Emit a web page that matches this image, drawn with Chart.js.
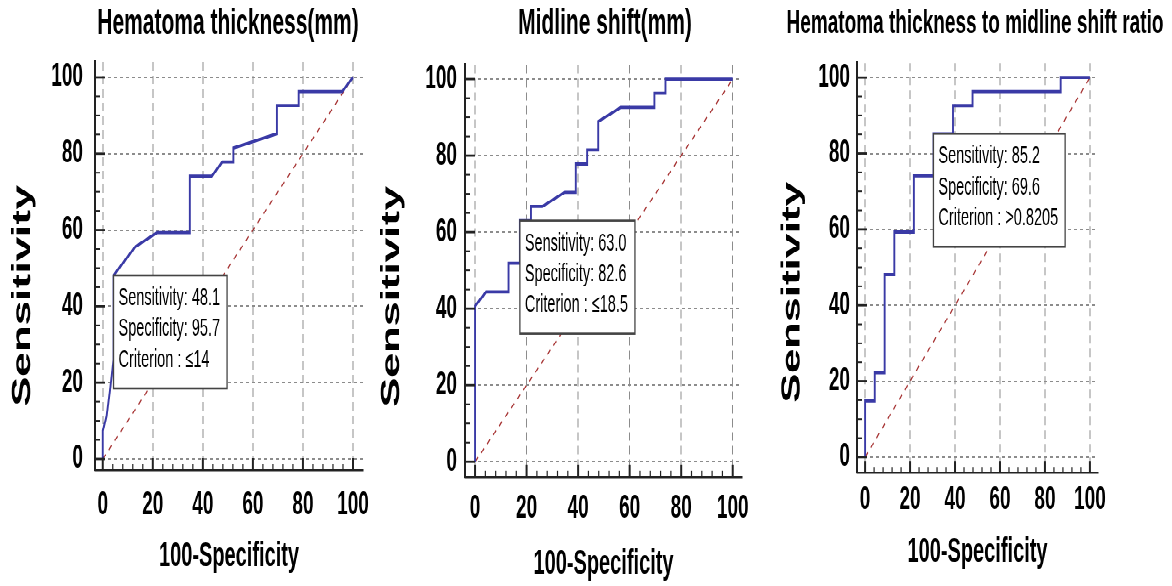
<!DOCTYPE html>
<html>
<head>
<meta charset="utf-8">
<script src="https://cdn.jsdelivr.net/npm/chart.js@4.4.1/dist/chart.umd.min.js"></script>
<style>
  html, body { margin: 0; padding: 0; background: #fff; overflow: hidden; }
  /* the source figure is stretched vertically, so the whole row is drawn flat and scaled */
  #wrap { position: absolute; left: 0; top: 0; width: 1172px; height: 345px; transform: scaleY(1.7); transform-origin: 0 0; }
  .panel { position: absolute; top: 0; height: 345px; }
</style>
</head>
<body>
<div id="wrap">
  <div class="panel" style="left:0;width:456px"><canvas id="roc1"></canvas></div>
  <div class="panel" style="left:375px;width:460px"><canvas id="roc2"></canvas></div>
  <div class="panel" style="left:778px;width:394px"><canvas id="roc3"></canvas></div>
</div>
<script>
const titles = ['Hematoma thickness(mm)', 'Midline shift(mm)', 'Hematoma thickness to midline shift ratio']
const xLabel = '100-Specificity'
const yLabel = 'Sensitivity'

// ROC curves: 100-specificity (x) and sensitivity (y)
const thicknessX = [0, 0, 1.5, 3.0, 4.3, 4.3, 13.0, 21.7, 34.8, 34.8, 43.5, 47.8, 52.2, 52.2, 69.6, 69.6, 78.3, 78.3, 95.7, 100]
const thicknessY = [0, 7.4, 11.1, 18.5, 25.9, 48.1, 55.6, 59.3, 59.3, 74.1, 74.1, 77.8, 77.8, 81.5, 85.2, 92.6, 92.6, 96.3, 96.3, 100]

const shiftX = [0, 0, 4.3, 13.0, 13.0, 17.4, 17.4, 21.7, 21.7, 26.1, 34.8, 39.1, 39.1, 43.5, 43.5, 47.8, 47.8, 56.5, 69.6, 69.6, 73.9, 73.9, 100]
const shiftY = [0, 40.7, 44.4, 44.4, 51.9, 51.9, 63.0, 63.0, 66.7, 66.7, 70.4, 70.4, 77.8, 77.8, 81.5, 81.5, 88.9, 92.6, 92.6, 96.3, 96.3, 100, 100]

const ratioX = [0, 0, 4.3, 4.3, 8.7, 8.7, 13.0, 13.0, 21.7, 21.7, 30.4, 30.4, 39.1, 39.1, 47.8, 47.8, 87.0, 87.0, 100]
const ratioY = [0, 14.8, 14.8, 22.2, 22.2, 48.1, 48.1, 59.3, 59.3, 74.1, 74.1, 85.2, 85.2, 92.6, 92.6, 96.3, 96.3, 100, 100]

const diagX = [0, 100]
const diagY = [0, 100]

// optimal cut-off of each curve
const sensitivity = [48.1, 63.0, 85.2]
const specificity = [95.7, 82.6, 69.6]
const criterion = ['≤14', '≤18.5', '>0.8205']

const curvesX = [thicknessX, shiftX, ratioX]
const curvesY = [thicknessY, shiftY, ratioY]

// per-panel geometry (canvas px, before the vertical stretch)
const frames = [
  {left: 0,   xMin: -3.1, xMax: 104.0, yMin: -2.9, yMax: 104.0, yWidth: 95, rWidth: 93, xHeight: 68.5, titleSize: 21, titlePad: {top: 1.6, bottom: 9.7},  yTickPad: 12, xTickPad: 9.5, xTitlePad: 5.5, yTitleX: 23, yTitleY: 174},
  {left: 375, xMin: -3.9, xMax: 103.6, yMin: -3.9, yMax: 103.7, yWidth: 90, rWidth: 93, xHeight: 64.6, titleSize: 21, titlePad: {top: 1.6, bottom: 11.4}, yTickPad: 8,  xTickPad: 7.4, xTitlePad: 1,   yTitleX: 392, yTitleY: 174.5},
  {left: 778, xMin: -3.6, xMax: 103.6, yMin: -4.1, yMax: 103.8, yWidth: 79, rWidth: 74, xHeight: 66.9, titleSize: 19, titlePad: {top: 2.8, bottom: 11.5}, yTickPad: 7,  xTickPad: 4.6, xTitlePad: 8,   yTitleX: 792.5, yTitleY: 172}
]

const FONT = "'Liberation Sans', Arial, sans-serif"

function points(xs, ys) {
  return xs.map((x, i) => ({x: x, y: ys[i]}))
}

function steps(every) {
  const t = []
  for (let v = 0; v <= 100; v += every) t.push({value: v})
  return t
}

// short tick marks pointing into the plot, long on the labelled values
const innerTicks = {
  id: 'innerTicks',
  afterDraw(chart) {
    const {ctx, chartArea: a, scales: {x, y}} = chart
    ctx.save()
    ctx.strokeStyle = '#222'
    x.ticks.forEach(t => {
      const px = x.getPixelForValue(t.value)
      const major = t.value % 20 === 0
      ctx.lineWidth = major ? 2 : 1.2
      ctx.beginPath()
      ctx.moveTo(px, a.bottom)
      ctx.lineTo(px, a.bottom - (major ? 7 : 3.5))
      ctx.stroke()
    })
    y.ticks.forEach(t => {
      const py = y.getPixelForValue(t.value)
      const major = t.value % 20 === 0
      ctx.lineWidth = major ? 1.4 : 1
      ctx.beginPath()
      ctx.moveTo(a.left, py)
      ctx.lineTo(a.left + (major ? 10 : 5), py)
      ctx.stroke()
    })
    ctx.restore()
  }
}

// white label box hung from the cut-off point
const critBox = {
  id: 'critBox',
  afterDatasetsDraw(chart, args, opts) {
    const {ctx, scales: {x, y}} = chart
    const left = x.getPixelForValue(opts.x)
    const top = y.getPixelForValue(opts.y)
    ctx.save()
    ctx.font = '14.5px ' + FONT
    const w = Math.max(...opts.lines.map(s => ctx.measureText(s).width)) + 12
    const h = 66.5
    ctx.fillStyle = '#fff'
    ctx.fillRect(left, top, w, h)
    ctx.strokeStyle = '#444'
    ctx.lineWidth = 1.3
    ctx.strokeRect(left, top, w, h)
    ctx.fillStyle = '#000'
    ctx.textBaseline = 'middle'
    opts.lines.forEach((s, i) => ctx.fillText(s, left + 5, top + 13.5 + i * 18.2))
    ctx.restore()
  }
}

// y axis title, a bit below the middle of the axis as in the source
const yTitle = {
  id: 'yTitle',
  afterDraw(chart, args, opts) {
    const {ctx} = chart
    ctx.save()
    ctx.translate(opts.x, opts.y)
    ctx.rotate(-Math.PI / 2)
    ctx.font = 'bold 26px ' + FONT
    ctx.fillStyle = '#000'
    ctx.textAlign = 'center'
    ctx.textBaseline = 'middle'
    ctx.fillText(opts.text, 0, 0)
    ctx.restore()
  }
}

const gridColor = c => (c.tick && c.tick.value % 20 === 0) ? '#8c8c8c' : 'rgba(0,0,0,0)'

frames.forEach((f, i) => {
  new Chart(document.getElementById('roc' + (i + 1)), {
    type: 'scatter',
    data: {
      datasets: [{
        data: points(curvesX[i], curvesY[i]),
        showLine: true,
        borderColor: '#3a3aa6',
        borderWidth: 1.9,
        pointRadius: 0,
        fill: false,
        order: 0
      }, {
        data: points(diagX, diagY),
        showLine: true,
        borderColor: '#a63232',
        borderWidth: 1,
        borderDash: [4, 4],
        pointRadius: 0,
        fill: false,
        order: 1
      }]
    },
    options: {
      responsive: true,
      maintainAspectRatio: false,
      animation: false,
      devicePixelRatio: 2,
      layout: {padding: 0, autoPadding: false},
      plugins: {
        legend: {display: false},
        tooltip: {enabled: false},
        title: {
          display: true,
          text: titles[i],
          color: '#000',
          font: {family: FONT, size: f.titleSize, weight: 'bold', lineHeight: 1.2},
          padding: f.titlePad
        },
        critBox: {
          x: 100 - specificity[i],
          y: sensitivity[i],
          lines: ['Sensitivity: ' + sensitivity[i].toFixed(1), 'Specificity: ' + specificity[i].toFixed(1), 'Criterion : ' + criterion[i]]
        },
        yTitle: {text: yLabel, x: f.yTitleX - f.left, y: f.yTitleY}
      },
      scales: {
        x: {
          type: 'linear',
          min: f.xMin,
          max: f.xMax,
          afterBuildTicks: s => { s.ticks = steps(4) },
          afterFit: s => { s.height = f.xHeight },
          ticks: {
            autoSkip: false,
            maxRotation: 0,
            padding: f.xTickPad,
            color: '#000',
            font: {family: FONT, size: 19, weight: 'bold'},
            callback: v => v % 20 === 0 ? v : ''
          },
          grid: {drawTicks: false, color: gridColor, lineWidth: 1},
          border: {color: '#222', width: 1.3, dash: [5, 3]},
          title: {
            display: true,
            text: xLabel,
            color: '#000',
            font: {family: FONT, size: 20, weight: 'bold', lineHeight: 1.2},
            padding: {top: 0, bottom: f.xTitlePad}
          }
        },
        y: {
          type: 'linear',
          min: f.yMin,
          max: f.yMax,
          afterBuildTicks: s => { s.ticks = steps(5) },
          afterFit: s => { s.width = f.yWidth },
          ticks: {
            autoSkip: false,
            padding: f.yTickPad,
            color: '#000',
            font: {family: FONT, size: 19, weight: 'bold'},
            callback: v => v % 20 === 0 ? v : ''
          },
          grid: {drawTicks: false, color: gridColor, lineWidth: 1},
          border: {color: '#222', width: 2, dash: [3, 3]}
        },
        pad: {
          type: 'linear',
          axis: 'y',
          position: 'right',
          afterFit: s => { s.width = f.rWidth },
          ticks: {display: false},
          grid: {display: false},
          border: {display: false}
        }
      }
    },
    plugins: [innerTicks, critBox, yTitle]
  })
})
</script>
</body>
</html>
